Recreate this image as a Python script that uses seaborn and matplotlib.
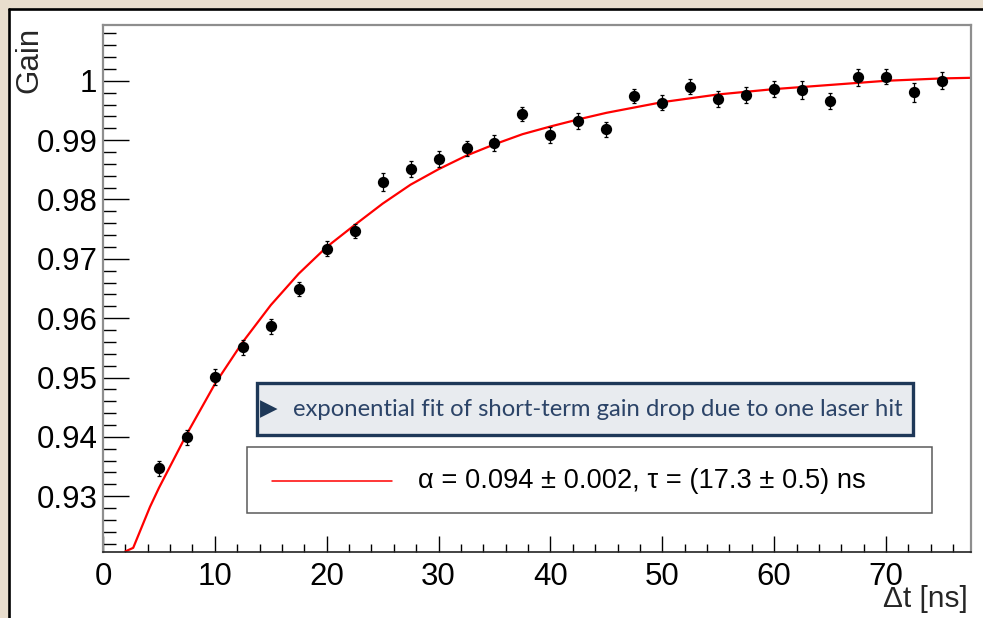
import matplotlib
matplotlib.use("Agg")
import matplotlib.pyplot as plt
import seaborn as sns
import numpy as np
import pandas as pd
from matplotlib.patches import Rectangle
from matplotlib.lines import Line2D

# ---- data ----
delta_t = [5, 7.5, 10, 12.5, 15, 17.5, 20, 22.5, 25, 27.5, 30, 32.5, 35, 37.5, 40,
           42.5, 45, 47.5, 50, 52.5, 55, 57.5, 60, 62.5, 65, 67.5, 70, 72.5, 75]
gain = [0.9347, 0.9399, 0.9501, 0.9551, 0.9586, 0.9649, 0.9717, 0.9747, 0.9830, 0.9851,
        0.9868, 0.9886, 0.9895, 0.9944, 0.9909, 0.9932, 0.9918, 0.9974, 0.9963, 0.9990,
        0.9969, 0.9976, 0.9986, 0.9985, 0.9966, 1.0006, 1.0007, 0.9981, 1.0000]
gain_err = [0.0013, 0.0013, 0.0014, 0.0013, 0.0012, 0.0012, 0.0013, 0.0012, 0.0015, 0.0013,
            0.0013, 0.0013, 0.0013, 0.0012, 0.0013, 0.0013, 0.0013, 0.0012, 0.0013, 0.0013,
            0.0013, 0.0013, 0.0014, 0.0015, 0.0013, 0.0014, 0.0013, 0.0016, 0.0014]

fit_t = [2.0, 2.7, 4.2, 5.0, 7.5, 10.0, 12.5, 15.0, 17.5, 20.0, 22.5, 25.0, 27.5, 30.0,
         32.5, 35.0, 37.5, 40.0, 42.5, 45.0, 50.0, 55.0, 60.0, 65.0, 70.0, 75.0, 77.6]
fit_gain = [0.9207, 0.9213, 0.9282, 0.9314, 0.9405, 0.9489, 0.9560, 0.9622, 0.9675, 0.9720,
            0.9757, 0.9793, 0.9825, 0.9851, 0.9874, 0.9893, 0.9910, 0.9923, 0.9935, 0.9946,
            0.9964, 0.9977, 0.9986, 0.9993, 1.0000, 1.0004, 1.0005]

x_ticks = [0, 10, 20, 30, 40, 50, 60, 70]
y_ticks = [0.93, 0.94, 0.95, 0.96, 0.97, 0.98, 0.99, 1.00]
y_tick_labels = ["0.93", "0.94", "0.95", "0.96", "0.97", "0.98", "0.99", "1"]

legend_label = "α = 0.094 ± 0.002, τ = (17.3 ± 0.5) ns"
note_text = "exponential fit of short-term gain drop due to one laser hit"

points = pd.DataFrame({"t": delta_t, "gain": gain, "err": gain_err})
fit = pd.DataFrame({"t": fit_t, "gain": fit_gain})

# ---- figure ----
sns.set_theme(style="white")
plt.rcParams["font.family"] = ["Liberation Sans", "DejaVu Sans"]

W, H = 983, 618
fig = plt.figure(figsize=(W / 100, H / 100), dpi=100)
fig.patch.set_facecolor("#e8ddcd")


def fx(x):
    return x / W


def fy(y):
    return 1 - y / H


# white panel with black border on top/left
fig.patches.append(Rectangle((fx(8.5), 0), 1 - fx(8.5), fy(8.5), transform=fig.transFigure,
                             facecolor="white", edgecolor="none", zorder=-10))
fig.lines.append(Line2D([fx(8.5), fx(8.5)], [0, fy(8.5)], transform=fig.transFigure,
                        color="black", lw=1.9, zorder=-9))
fig.lines.append(Line2D([fx(8.5), 1], [fy(8.5), fy(8.5)], transform=fig.transFigure,
                        color="black", lw=1.9, zorder=-9))

ax = fig.add_axes([fx(103), fy(552), fx(971) - fx(103), fy(25) - fy(552)])
ax.set_facecolor("white")

ax.errorbar(points["t"], points["gain"], yerr=points["err"], fmt="none",
            ecolor="black", elinewidth=0.9, capsize=1.6, capthick=0.9, zorder=3)
sns.lineplot(data=fit, x="t", y="gain", ax=ax, color="#ff0000", lw=1.6,
             sort=False, zorder=2, legend=False)
sns.scatterplot(data=points, x="t", y="gain", ax=ax, color="black", s=66,
                edgecolor="black", linewidth=0, zorder=4, legend=False)

ax.set_xlim(0, 77.6)
ax.set_ylim(0.9206, 1.0094)
ax.set_xticks(x_ticks)
ax.set_xticklabels([str(v) for v in x_ticks])
ax.set_yticks(y_ticks)
ax.set_yticklabels(y_tick_labels)
ax.set_xticks(np.arange(0, 77.6, 2), minor=True)
ax.set_yticks(np.arange(0.922, 1.0094, 0.002), minor=True)
ax.tick_params(axis="both", which="both", direction="in", colors="black",
               labelsize=22.5, bottom=True, left=True, top=False, right=False)
ax.tick_params(axis="y", which="major", length=19, width=1.0, pad=4)
ax.tick_params(axis="y", which="minor", length=9.5, width=1.0)
ax.tick_params(axis="x", which="major", length=11.5, width=1.0, pad=7)
ax.tick_params(axis="x", which="minor", length=5.5, width=1.0)
ax.set_xlabel("")
ax.set_ylabel("")
for side in ["top", "right", "left"]:
    ax.spines[side].set_color("#8e8e8e")
    ax.spines[side].set_linewidth(1.6)
ax.spines["bottom"].set_color("#222222")
ax.spines["bottom"].set_linewidth(1.2)

# axis titles
fig.text(fx(29), fy(27), "Gain", rotation=90, ha="center", va="top", fontsize=22.5)
fig.text(fx(968), fy(599), "Δt [ns]", ha="right", va="center", fontsize=21.5)

# annotation box
ax.add_patch(Rectangle((fx(257), fy(435)), fx(913) - fx(257), fy(383) - fy(435),
                       transform=fig.transFigure, facecolor="#e8ebef", edgecolor="#1e3858",
                       lw=2.4, zorder=6, clip_on=False))
fig.text(fx(260), fy(409), "▶", ha="left", va="center", fontsize=16.5,
         color="#1e3858", family=["DejaVu Sans"], zorder=7)
fig.text(fx(293), fy(410), note_text, ha="left", va="center", fontsize=17.2,
         color="#2c4468", family=["Lato", "DejaVu Sans"], zorder=7)

# legend box
ax.add_patch(Rectangle((fx(247), fy(513)), fx(932) - fx(247), fy(447) - fy(513),
                       transform=fig.transFigure, facecolor="white", edgecolor="#5a5a5a",
                       lw=1.1, zorder=6, clip_on=False))
fig.lines.append(Line2D([fx(272), fx(392)], [fy(481), fy(481)], transform=fig.transFigure,
                        color="#ff0000", lw=1.1, zorder=7))
fig.text(fx(418), fy(481), legend_label, ha="left", va="center", fontsize=19.6,
         color="black", zorder=7)

fig.savefig("out.png", dpi=100, facecolor=fig.get_facecolor())
